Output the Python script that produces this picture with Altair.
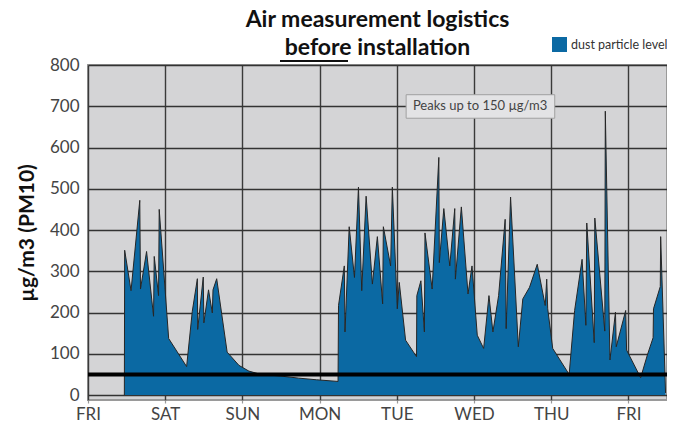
import altair as alt
import pandas as pd

# ---- data ----
DAY_LABELS = ["FRI", "SAT", "SUN", "MON", "TUE", "WED", "THU", "FRI"]
SERIES = "dust particle level"

# hours since Friday 00:00
hours = [11.30, 11.40, 13.38, 16.10, 16.32, 18.21, 20.38, 20.59, 21.93, 22.14,
         25.08, 30.66, 32.42, 34.00, 34.10, 35.83, 36.02, 37.47, 38.65, 38.86,
         40.01, 43.26, 46.92, 50.01, 53.73, 59.92, 65.50, 71.07, 77.73, 77.88,
         79.68, 79.90, 81.20, 82.84, 84.08, 85.10, 86.46, 88.41, 89.96, 91.60,
         91.82, 94.08, 94.61, 96.15, 96.77, 98.73, 102.13, 102.23, 103.49, 104.58,
         104.76, 106.99, 109.07, 109.22, 110.62, 112.47, 114.02, 114.21, 116.07, 118.14,
         119.38, 121.02, 123.00, 124.65, 125.88, 127.65, 129.69, 130.00, 131.37, 133.78,
         135.17, 137.25, 139.66, 142.14, 142.61, 142.92, 144.47, 149.58, 151.28, 153.60,
         154.78, 155.06, 157.38, 157.56, 160.66, 160.82, 162.27, 163.98, 164.22, 167.16,
         167.44, 171.81, 173.89, 175.68, 175.80, 177.91, 178.03, 179.55]
pm10 = [0, 351, 253, 472, 257, 348, 191, 336, 241, 450,
        137, 69, 203, 282, 159, 286, 175, 255, 199, 255,
        282, 104, 72, 58, 50, 46, 41, 37, 33, 217,
        313, 153, 408, 285, 504, 253, 482, 269, 384, 221,
        408, 313, 504, 209, 273, 133, 93, 241, 277, 153,
        393, 257, 576, 321, 452, 313, 452, 281, 456, 245,
        313, 145, 113, 241, 153, 241, 426, 161, 480, 117,
        233, 261, 317, 217, 281, 209, 113, 50, 205, 329,
        169, 417, 127, 429, 155, 688, 85, 201, 117, 205,
        109, 42, 97, 139, 209, 263, 384, 5]

THRESHOLD = [50]
NOTE_TEXT = ["Peaks up to 150 µg/m3"]
NOTE_X = [98.9]
NOTE_X2 = [145.1]
NOTE_Y = [671]
NOTE_Y2 = [728]
NOTE_XC = [121.9]
NOTE_YC = [700]

W, H = 579, 335
FONT = "Lato"
AREA_BLUE = "#0b69a3"

df = pd.DataFrame({"hours": hours, "pm10": pm10, "series": SERIES})
thr = pd.DataFrame({"level": THRESHOLD})
note = pd.DataFrame({"x": NOTE_X, "x2": NOTE_X2, "y": NOTE_Y, "y2": NOTE_Y2,
                     "xc": NOTE_XC, "yc": NOTE_YC, "t": NOTE_TEXT})

xscale = alt.Scale(domain=[0, 180], nice=False, zero=False)
yscale = alt.Scale(domain=[-12, 800], nice=False)

day_expr = "datum.value % 24 === 0 ? " + str(DAY_LABELS) + "[datum.value / 24] : ''"

x_axis = alt.Axis(
    values=list(range(0, 181, 12)),
    labelExpr=day_expr,
    title=None,
    grid=True,
    gridColor={"condition": {"test": "datum.value % 24 === 0", "value": "#3a3a3a"},
               "value": "#8c8c8c"},
    gridWidth=1.4,
    domain=False,
    ticks=True,
    tickSize=3,
    tickColor="#9a9a9a",
    tickWidth=1.2,
    labelFlush=False,
    labelOverlap=False,
    labelFont=FONT,
    labelFontSize=17,
    labelColor="#444444",
    labelPadding=3,
)
y_axis = alt.Axis(
    values=list(range(0, 801, 100)),
    title="µg/m3 (PM10)",
    titleFont=FONT,
    titleFontSize=21,
    titleFontWeight="bold",
    titleColor="#111111",
    titlePadding=12,
    grid=True,
    gridColor="#333333",
    gridWidth=1.3,
    domain=False,
    ticks=False,
    labelFont=FONT,
    labelFontSize=17,
    labelColor="#444444",
    labelPadding=9,
)

area = alt.Chart(df).mark_area(opacity=1).encode(
    x=alt.X("hours:Q", scale=xscale, axis=x_axis),
    y=alt.Y("pm10:Q", scale=yscale, axis=y_axis),
    color=alt.Color("series:N", scale=alt.Scale(range=[AREA_BLUE]),
                    legend=alt.Legend(orient="none", legendX=464, legendY=-28,
                                      title=None, symbolType="square", symbolSize=225,
                                      symbolStrokeWidth=0, symbolOpacity=1,
                                      labelFont=FONT, labelFontSize=12.5,
                                      labelColor="#333333", labelOffset=4, padding=0)),
)
outline = alt.Chart(df).mark_line(color="#262626", strokeWidth=1).encode(
    x=alt.X("hours:Q", scale=xscale),
    y=alt.Y("pm10:Q", scale=yscale),
)
rule = alt.Chart(thr).mark_rule(color="#000000", strokeWidth=4).encode(
    y=alt.Y("level:Q", scale=yscale),
)
box = alt.Chart(note).mark_rect(fill="#e3e3e5", stroke="#a0a0a0", strokeWidth=1).encode(
    x=alt.X("x:Q", scale=xscale), x2="x2:Q",
    y=alt.Y("y:Q", scale=yscale), y2="y2:Q",
)
txt = alt.Chart(note).mark_text(font=FONT, fontSize=13, color="#444444").encode(
    x=alt.X("xc:Q", scale=xscale),
    y=alt.Y("yc:Q", scale=yscale),
    text="t:N",
)
underline = alt.Chart(note).mark_rule(color="#111111", strokeWidth=2).encode(
    x=alt.value(192), x2=alt.value(260), y=alt.value(-4),
)

chart = alt.layer(area, outline, rule, box, txt, underline).properties(
    width=W, height=H,
    title=alt.Title("Air measurement logistics", subtitle="before installation",
                    font=FONT, fontSize=23, fontWeight="bold", color="#111111",
                    subtitleFont=FONT, subtitleFontSize=23, subtitleFontWeight="bold",
                    subtitleColor="#111111", subtitlePadding=5, anchor="middle", offset=-23),
    padding={"left": 80, "top": 57, "right": 0, "bottom": 24},
    autosize=alt.AutoSizeParams(type="none"),
).configure_view(fill="#d4d4d6", stroke="#9a9a9a", strokeWidth=2)

chart.save("out.html", embed_options={"renderer": "svg", "actions": False})
